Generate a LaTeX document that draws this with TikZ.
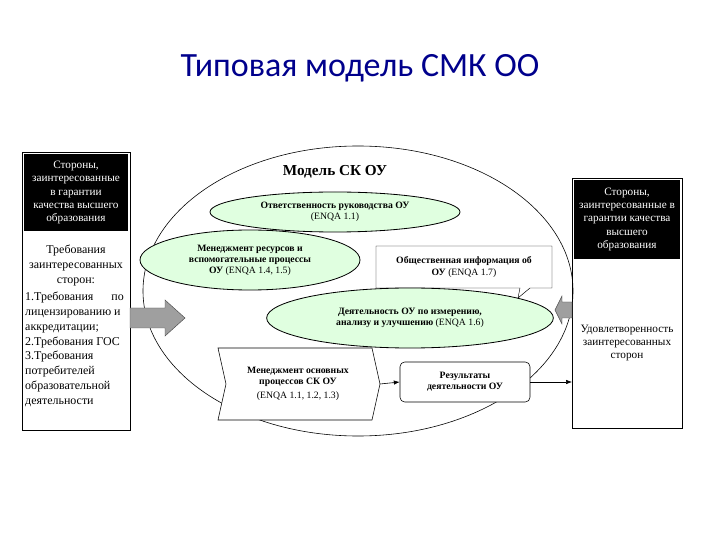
\documentclass[tikz,border=0pt]{standalone}
\usepackage{fontspec}
\setmainfont{Liberation Serif}
\newfontfamily\titlefont{Carlito}
\usetikzlibrary{shapes.geometric,arrows.meta}
\begin{document}
\begin{tikzpicture}[x=0.03cm,y=-0.03cm,
  gell/.style={ellipse,draw,fill=green!12,line width=0.7pt,inner sep=0pt},
  btxt/.style={font=\fontsize{8.3}{9.5}\selectfont\bfseries,align=center},
  side/.style={font=\fontsize{9.6}{11.2}\selectfont},
  lside/.style={font=\fontsize{10.2}{12.6}\selectfont},
  conn/.style={-{Latex[length=5pt]},line width=0.5pt},
  garrow/.style={fill=gray!75,draw=black!70,line width=0.4pt}]
\useasboundingbox (0,0) rectangle (720,540);
\node[font=\titlefont\fontsize{29}{32}\selectfont,text=blue!55!black] (title) at (360,68) {Типовая модель СМК ОО};
% left box
\node[draw,line width=0.8pt,anchor=north west,inner sep=0pt,minimum width=3.24cm,minimum height=8.34cm] (lbox) at (22,152) {};
\node[fill=black,text=white,anchor=north,minimum width=3.1cm,minimum height=2.3cm,side,align=center] (lhead) at (76,154) {Стороны,\\заинтересованные\\в гарантии\\качества высшего\\образования};
\node[anchor=north,lside,align=center,inner sep=0pt] (ltext1) at (76,245) {Требования\\заинтересованных\\сторон:};
\node[anchor=north west,lside,align=left,inner sep=0pt] (ltext2) at (25,292) {1.Требования\hspace{1.5em}по\\лицензированию и\\аккредитации;\\2.Требования ГОС\\3.Требования\\потребителей\\образовательной\\деятельности};
% right box
\node[draw,line width=0.8pt,anchor=north west,inner sep=0pt,minimum width=3.3cm,minimum height=7.5cm] (rbox) at (572,178) {};
\node[fill=black,text=white,anchor=north,minimum width=3.2cm,minimum height=2.35cm,side,align=center] (rhead) at (627,180) {Стороны,\\заинтересованные в\\гарантии качества\\высшего\\образования};
\node[side,align=center] (rtext) at (627,343) {Удовлетворенность\\заинтересованных\\сторон};
% big ellipse
\node[ellipse,draw,line width=0.5pt,minimum width=12.9cm,minimum height=8.7cm] (big) at (358,291) {};
\node[font=\fontsize{13}{14}\selectfont\bfseries] (mtitle) at (335,172) {Модель СК ОУ};
\node[gell,minimum width=7.5cm,minimum height=1.2cm,btxt] (e1) at (335,212) {Ответственность руководства ОУ\\\mdseries (ENQA 1.1)};
% callout
\draw[line width=0.4pt,fill=white] (376,246) -- (552,246) -- (552,288) -- (530,288) -- (518,298) -- (520,288) -- (376,288) -- cycle;
\node[btxt] (info) at (464,267) {Общественная информация об\\ОУ \mdseries(ENQA 1.7)};
\node[gell,minimum width=6.6cm,minimum height=1.8cm,btxt] (e2) at (250,260) {Менеджмент ресурсов и\\вспомогательные процессы\\ОУ \mdseries(ENQA 1.4, 1.5)};
\node[gell,minimum width=8.6cm,minimum height=1.8cm,btxt] (e3) at (410,318) {Деятельность ОУ по измерению,\\анализу и улучшению \mdseries(ENQA 1.6)};
% main process shape
\draw[line width=0.5pt,fill=white] (218,348) -- (372,348) -- (380,384) -- (372,420) -- (218,420) -- (226,384) -- cycle;
\node[btxt] (proc) at (298,384) {Менеджмент основных\\процессов СК ОУ\\[2pt]\mdseries (ENQA 1.1, 1.2, 1.3)};
\coordinate (procR) at (380,384);
\node[draw,rounded corners=4pt,line width=0.5pt,fill=white,minimum width=3.9cm,minimum height=1.2cm,btxt] (res) at (465,382) {Результаты\\деятельности ОУ};
\draw[conn] (procR) -- (res.west);
\draw[conn] (res.east) -- (rbox.west |- res.east);
% gray arrows
\draw[garrow] (130,308) -- (165,308) -- (165,300) -- (185,318) -- (165,336) -- (165,328) -- (130,328) -- cycle;
\draw[garrow] (572,302) -- (562,302) -- (562,296) -- (555,310) -- (562,324) -- (562,318) -- (572,318) -- cycle;
\end{tikzpicture}
\end{document}
